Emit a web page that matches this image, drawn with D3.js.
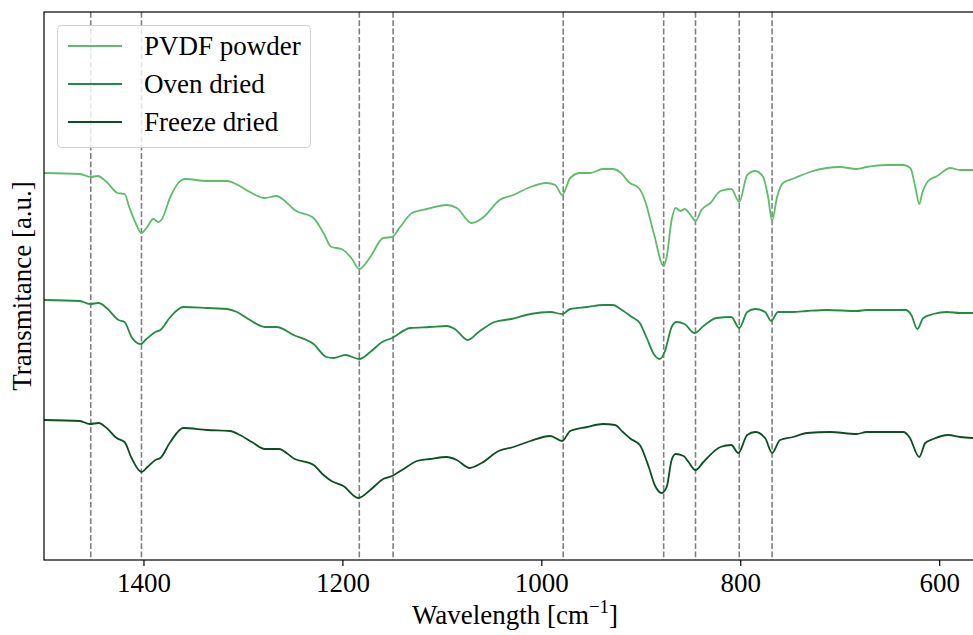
<!DOCTYPE html>
<html>
<head>
<meta charset="utf-8">
<script src="https://cdn.jsdelivr.net/npm/d3@7"></script>
<style>
  html, body { margin: 0; padding: 0; background: #fff; }
  #chart { width: 973px; height: 635px; }
</style>
</head>
<body>
<div id="chart"></div>
<script>
  /**************************************************
   * Data                                           *
   **************************************************/

  var seriesNames = ['PVDF powder', 'Oven dried', 'Freeze dried'];
  var seriesColors = ['#5dbd6b', '#248b44', '#0b4f25'];

  // wavenumber [cm-1], transmittance [a.u., offset]
  var pvdfWn = [1500, 1464, 1453, 1446, 1437, 1426, 1419, 1414, 1407, 1402, 1397, 1390, 1385, 1382, 1373, 1365, 1358, 1336, 1316, 1305, 1293, 1278, 1266, 1259, 1248, 1229, 1219, 1211, 1201, 1191, 1183, 1172, 1159, 1150, 1142, 1130, 1115, 1095, 1085, 1070, 1058, 1042, 1028, 1011, 995, 986, 979, 971, 961, 951, 938, 928, 921, 911, 902, 896, 887, 877, 874, 869, 865, 860, 856, 850, 845, 839, 830, 820, 809, 801, 793, 785, 777, 772, 768, 763, 757, 745, 730, 713, 700, 683, 673, 653, 636, 629, 624, 620, 617, 611, 602, 589, 579, 566];
  var pvdfT = [387, 386, 383, 384, 378, 367, 366, 352, 335, 327, 332, 341, 338, 340, 363, 377, 381, 379, 379, 375, 368, 362, 364, 360, 350, 342, 327, 313, 311, 302, 291, 303, 322, 323, 333, 347, 351, 355, 352, 337, 343, 360, 365, 373, 377, 375, 365, 382, 387, 387, 391, 391, 388, 377, 372, 360, 327, 294, 303, 340, 352, 349, 351, 345, 339, 350, 357, 369, 371, 358, 385, 389, 383, 363, 339, 363, 377, 382, 388, 392, 393, 391, 393, 395, 395, 392, 373, 356, 367, 379, 384, 392, 390, 390];

  var ovenWn = [1500, 1464, 1454, 1445, 1437, 1425, 1419, 1412, 1403, 1397, 1388, 1383, 1373, 1360, 1336, 1316, 1306, 1293, 1278, 1266, 1249, 1229, 1216, 1209, 1197, 1183, 1172, 1160, 1150, 1132, 1112, 1095, 1087, 1074, 1063, 1047, 1030, 1011, 991, 979, 971, 954, 938, 928, 919, 909, 901, 894, 887, 881, 876, 869, 864, 856, 846, 837, 824, 809, 801, 793, 785, 775, 769, 762, 747, 733, 713, 683, 673, 634, 628, 622, 616, 606, 592, 579, 566];
  var ovenT = [260, 259, 256, 257, 252, 240, 238, 223, 216, 221, 228, 230, 243, 253, 252, 251, 248, 240, 233, 233, 225, 216, 203, 202, 205, 201, 208, 218, 222, 232, 233, 234, 231, 220, 228, 238, 241, 246, 248, 246, 251, 253, 255, 255, 250, 243, 237, 222, 206, 201, 208, 233, 238, 236, 227, 234, 242, 243, 232, 248, 251, 248, 239, 248, 248, 249, 250, 249, 250, 250, 245, 231, 242, 246, 248, 247, 247];

  var freezeWn = [1500, 1464, 1454, 1445, 1437, 1427, 1419, 1412, 1402, 1396, 1388, 1383, 1373, 1360, 1336, 1313, 1303, 1291, 1278, 1264, 1248, 1229, 1219, 1211, 1199, 1184, 1172, 1159, 1150, 1140, 1125, 1112, 1095, 1085, 1072, 1060, 1043, 1028, 1011, 991, 979, 971, 954, 938, 926, 918, 910, 901, 892, 886, 879, 874, 869, 865, 857, 852, 845, 837, 820, 809, 802, 793, 785, 775, 768, 760, 747, 733, 710, 683, 673, 636, 630, 620, 614, 606, 591, 579, 566];
  var freezeT = [140, 139, 136, 137, 132, 122, 118, 102, 88, 93, 100, 102, 118, 132, 130, 129, 125, 118, 111, 111, 101, 95, 85, 79, 74, 62, 70, 81, 84, 90, 99, 101, 103, 100, 92, 97, 109, 113, 119, 124, 119, 129, 133, 136, 135, 128, 121, 115, 93, 75, 67, 73, 100, 106, 104, 98, 90, 98, 113, 115, 107, 125, 128, 122, 107, 120, 123, 127, 128, 126, 128, 128, 123, 103, 117, 121, 125, 123, 122];

  var peakLines = [1453, 1402, 1183, 1149, 978, 877, 845, 801, 768];
  var xTicks = [1400, 1200, 1000, 800, 600];

  window.onload = function() {

    /**************************************************
     * Global Variables                               *
     **************************************************/

    var width = 973,
      height = 635;

    var margin = { left: 44, top: 12, right: -1, bottom: 75 };
    var fontFamily = '"Liberation Serif", "Times New Roman", serif';
    var fontSize = 27;

    var plotRight = width - margin.right,
      plotBottom = height - margin.bottom;

    var svg = d3.select('#chart').append('svg')
      .attr('width', width)
      .attr('height', height);

    var x = d3.scaleLinear().domain([1500, 565]).range([margin.left, plotRight]);
    var y = d3.scaleLinear().domain([0, 548]).range([plotBottom, margin.top]);

    var series = [
      { name: seriesNames[0], color: seriesColors[0], wn: pvdfWn, t: pvdfT },
      { name: seriesNames[1], color: seriesColors[1], wn: ovenWn, t: ovenT },
      { name: seriesNames[2], color: seriesColors[2], wn: freezeWn, t: freezeT }
    ];

    /**************************************************
     * Draw Area                                      *
     **************************************************/

    svg.append('defs').append('clipPath').attr('id', 'plotClip')
      .append('rect')
      .attr('x', margin.left).attr('y', margin.top)
      .attr('width', plotRight - margin.left).attr('height', plotBottom - margin.top);

    var plot = svg.append('g').attr('clip-path', 'url(#plotClip)');

    // reference peaks
    plot.append('g').selectAll('line')
      .data(peakLines)
      .enter().append('line')
      .attr('x1', function(d) { return x(d); })
      .attr('x2', function(d) { return x(d); })
      .attr('y1', margin.top)
      .attr('y2', plotBottom)
      .attr('stroke', '#7f7f7f')
      .attr('stroke-width', 1.6)
      .attr('stroke-dasharray', '5.8,2.5');

    var line = d3.line()
      .x(function(d) { return x(d[0]); })
      .y(function(d) { return y(d[1]); })
      .curve(d3.curveMonotoneX);

    series.forEach(function(s) {
      var pts = s.wn.map(function(w, i) { return [w, s.t[i]]; });
      plot.append('path')
        .datum(pts)
        .attr('d', line)
        .attr('fill', 'none')
        .attr('stroke', s.color)
        .attr('stroke-width', 1.8);
    });

    // x axis
    var xAxis = svg.append('g')
      .attr('transform', 'translate(0,' + plotBottom + ')')
      .call(d3.axisBottom(x).tickValues(xTicks).tickSize(6).tickPadding(7).tickFormat(d3.format('d')));
    xAxis.select('.domain').remove();
    xAxis.selectAll('.tick line').attr('stroke', '#000').attr('stroke-width', 1.2);
    xAxis.selectAll('.tick text')
      .attr('font-family', fontFamily)
      .attr('font-size', fontSize)
      .attr('fill', '#000');

    // frame
    svg.append('rect')
      .attr('x', margin.left).attr('y', margin.top)
      .attr('width', plotRight - margin.left).attr('height', plotBottom - margin.top)
      .attr('fill', 'none')
      .attr('stroke', '#000')
      .attr('stroke-width', 1.2);

    // axis labels
    var xLabel = svg.append('text')
      .attr('x', 515)
      .attr('y', 624)
      .attr('text-anchor', 'middle')
      .attr('font-family', fontFamily)
      .attr('font-size', fontSize);
    xLabel.append('tspan').text('Wavelength [cm');
    xLabel.append('tspan').attr('font-size', 19).attr('dy', -11).text('\u22121');
    xLabel.append('tspan').attr('dy', 11).text(']');

    svg.append('text')
      .attr('transform', 'translate(31,' + ((margin.top + plotBottom) / 2) + ') rotate(-90)')
      .attr('text-anchor', 'middle')
      .attr('font-family', fontFamily)
      .attr('font-size', fontSize)
      .text('Transmitance [a.u.]');

    // legend
    var legend = svg.append('g');
    legend.append('rect')
      .attr('x', 57.5).attr('y', 25.5)
      .attr('width', 253).attr('height', 122)
      .attr('rx', 4)
      .attr('fill', '#fff')
      .attr('fill-opacity', 0.8)
      .attr('stroke', '#d0d0d0')
      .attr('stroke-width', 1);

    series.forEach(function(s, i) {
      var ly = 46 + i * 38;
      legend.append('line')
        .attr('x1', 68).attr('x2', 122)
        .attr('y1', ly).attr('y2', ly)
        .attr('stroke', s.color)
        .attr('stroke-width', 1.8);
      legend.append('text')
        .attr('x', 144).attr('y', ly + 9)
        .attr('font-family', fontFamily)
        .attr('font-size', fontSize)
        .text(s.name);
    });
  };
</script>
</body>
</html>
